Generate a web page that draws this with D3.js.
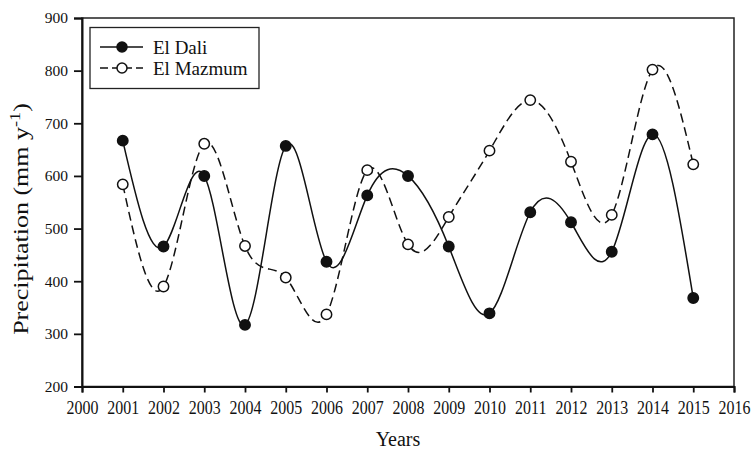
<!DOCTYPE html>
<html>
<head>
<meta charset="utf-8">
<script src="https://cdn.jsdelivr.net/npm/d3@7"></script>
<style>
  body { margin: 0; background: #fff; }
</style>
</head>
<body>
<svg id="chart" width="752" height="449"></svg>
<script>
// Annual precipitation at two stations
const years = [2001, 2002, 2003, 2004, 2005, 2006, 2007, 2008, 2009, 2010, 2011, 2012, 2013, 2014, 2015];
const elDali = [667, 466, 600, 317, 657, 437, 563, 600, 466, 339, 531, 512, 456, 679, 368];
const elMazmum = [584, 390, 661, 467, 407, 337, 611, 470, 522, 648, 744, 627, 526, 802, 622];
const xTicks = d3.range(2000, 2017);
const yTicks = [200, 300, 400, 500, 600, 700, 800, 900];

const FONT = '"Liberation Serif"';
const svg = d3.select("#chart");
const plotL = 82, plotR = 734, plotT = 18, plotB = 386.5;

const x = d3.scaleLinear().domain([2000, 2016]).range([plotL, plotR]);
const y = d3.scaleLinear().domain([200, 900]).range([plotB, plotT]);

// frame
svg.append("rect")
  .attr("x", plotL).attr("y", plotT)
  .attr("width", plotR - plotL).attr("height", plotB - plotT)
  .attr("fill", "none").attr("stroke", "#222").attr("stroke-width", 1.5);

// axes
const xAxis = svg.append("g").attr("transform", `translate(0,${plotB})`)
  .call(d3.axisBottom(x).tickValues(xTicks).tickFormat(d3.format("d")).tickSize(6).tickPadding(8));
const yAxis = svg.append("g").attr("transform", `translate(${plotL},0)`)
  .call(d3.axisLeft(y).tickValues(yTicks).tickSize(8).tickPadding(6));
[xAxis, yAxis].forEach(g => {
  g.attr("font-family", null).style("font-family", FONT);
  g.select(".domain").attr("stroke", "#111").attr("stroke-width", 2);
  g.selectAll(".tick line").attr("stroke", "#111").attr("stroke-width", 1.8);
  g.selectAll(".tick text").style("font-family", FONT).attr("fill", "#111");
});
// year labels are set slightly condensed
xAxis.selectAll(".tick text").attr("font-size", 19).attr("transform", "scale(0.84,1)");
yAxis.selectAll(".tick text").attr("font-size", 15.5);

// axis titles
svg.append("text")
  .attr("x", 398).attr("y", 446)
  .attr("text-anchor", "middle").attr("font-size", 20).style("font-family", FONT).attr("fill", "#111")
  .text("Years");
const yt = svg.append("text")
  .attr("transform", `translate(28,219) rotate(-90) scale(1.3,1)`)
  .attr("text-anchor", "middle").attr("font-size", 20).style("font-family", FONT).attr("fill", "#111");
yt.append("tspan").text("Precipitation (mm y");
yt.append("tspan").attr("dy", -8).attr("font-size", 14).text("-1");
yt.append("tspan").attr("dy", 8).text(")");

const line = d3.line().curve(d3.curveNatural)
  .x(d => x(d[0])).y(d => y(d[1]));

const seriesList = [
  { name: "El Dali", values: elDali, dash: null, fill: "#111" },
  { name: "El Mazmum", values: elMazmum, dash: "9,5", fill: "#fff" }
];

seriesList.forEach(s => {
  const pts = years.map((yr, i) => [yr, s.values[i]]);
  svg.append("path").datum(pts)
    .attr("d", line).attr("fill", "none")
    .attr("stroke", "#111").attr("stroke-width", 1.5)
    .attr("stroke-dasharray", s.dash);
});
seriesList.forEach(s => {
  const pts = years.map((yr, i) => [yr, s.values[i]]);
  svg.append("g").selectAll("circle").data(pts).join("circle")
    .attr("cx", d => x(d[0])).attr("cy", d => y(d[1])).attr("r", 5.2)
    .attr("fill", s.fill).attr("stroke", "#111").attr("stroke-width", 1.5);
});

// legend
const lg = svg.append("g");
lg.append("rect").attr("x", 90).attr("y", 27.5).attr("width", 169).attr("height", 61)
  .attr("fill", "#fff").attr("stroke", "#222").attr("stroke-width", 1.3);
seriesList.forEach((s, i) => {
  const cy = 47 + i * 21;
  lg.append("line").attr("x1", 100).attr("x2", 143).attr("y1", cy).attr("y2", cy)
    .attr("stroke", "#111").attr("stroke-width", 1.5).attr("stroke-dasharray", s.dash ? "8,4" : null);
  lg.append("circle").attr("cx", 122).attr("cy", cy).attr("r", 5)
    .attr("fill", s.fill).attr("stroke", "#111").attr("stroke-width", 1.5);
  lg.append("text").attr("x", 153).attr("y", cy + 7).attr("font-size", 19)
    .style("font-family", FONT).attr("fill", "#111").text(s.name);
});
</script>
</body>
</html>
